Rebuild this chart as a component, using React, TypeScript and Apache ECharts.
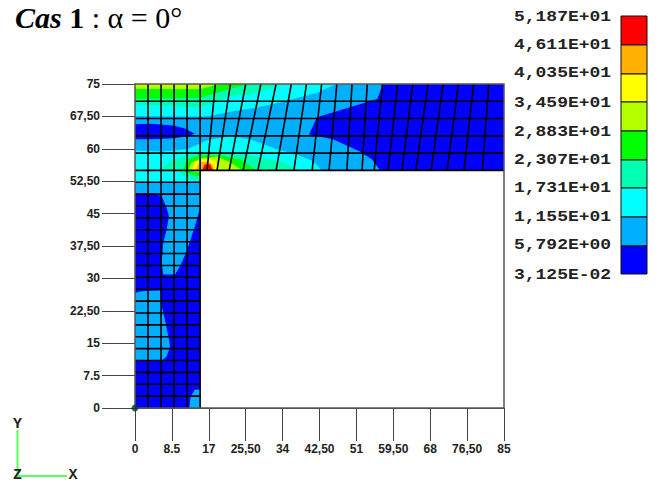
import React, { useEffect, useRef } from "react";
import * as echarts from "echarts";

const levelColors = ["#0000ff", "#00b0ff", "#00ffff", "#00ffb0", "#00ff00", "#b4ff00", "#ffff00", "#ffb000", "#ff0000"];
const legendLabels = ["5,187E+01", "4,611E+01", "4,035E+01", "3,459E+01", "2,883E+01", "2,307E+01", "1,731E+01", "1,155E+01", "5,792E+00", "3,125E-02"];
const xTickLabels = ["0", "8.5", "17", "25,50", "34", "42,50", "51", "59,50", "68", "76,50", "85"];
const yTickLabels = ["0", "7.5", "15", "22,50", "30", "37,50", "45", "52,50", "60", "67,50", "75"];

type Pt = [number, number];
// Iso-value bands in model units, painted from lowest to highest level.
const baseShape: Pt[] = [[0, 0], [15, 0], [15, 55], [85, 55], [85, 75], [0, 75]];
const topLight: Pt[] = [[0, 75], [57.1, 75], [55.8, 71.5], [41.9, 67.3], [40.1, 63.3], [45.6, 62.2], [51.8, 59.4], [54.6, 57.5], [56.5, 55], [0, 55]];
const leftLightA: Pt[] = [[0, 55], [15, 55], [15, 46.3], [13.8, 42.1], [11.9, 36.3], [10.4, 32.8], [9.2, 30.9], [6.5, 30.9], [6.15, 33.6], [6.5, 38.2], [7.3, 41.3], [7.8, 44.4], [7.3, 46.3], [6.15, 49], [4.2, 49.65], [0, 49.65]];
const leftLightB: Pt[] = [[0, 26.6], [1.5, 27], [5.76, 27.2], [6.15, 23.5], [6.9, 20.4], [7.7, 16.5], [8.06, 14.2], [7.3, 11.9], [6.4, 11.1], [0, 11.1]];
const leftLightC: Pt[] = [[15, 4.3], [13.8, 4.2], [12.8, 2.6], [12.5, 0], [15, 0]];
const blueBlob: Pt[] = [[0, 65.7], [3.5, 65.8], [8.8, 65.4], [11.5, 64.7], [13.8, 63.5], [11.5, 62.8], [8.1, 62.4], [3.5, 62.2], [0, 62.2]];
const cyanTop: Pt[] = [[0, 75], [46.3, 75], [41.9, 73], [36.4, 71.5], [31.8, 70.3], [27.7, 69.5], [21.9, 68.6], [17.3, 67.6], [14.3, 67.5], [0, 67.6]];
const cyanLow: Pt[] = [[0, 59.6], [6.45, 59.4], [12, 59.9], [16.6, 62], [21.9, 62.9], [26.5, 62.2], [32.7, 59.9], [37.3, 58.7], [41, 57.1], [43.1, 55], [15, 55], [15, 52.4], [0, 52.4]];
const tealTop: Pt[] = [[0, 75], [33.4, 75], [31.1, 73.9], [26.5, 72.6], [21.9, 72.2], [17.3, 70.3], [14.3, 69.6], [0, 70.3]];
const tealLow: Pt[] = [[5.76, 55], [8.06, 57.1], [12, 58.5], [16.6, 59.4], [22.6, 59.2], [28.8, 58], [34.1, 56.8], [38, 55], [15, 55], [15, 52.7], [12.7, 52.9], [11, 53.8], [9.9, 55]];
const greenTop: Pt[] = [[0, 75], [26.5, 75], [21.9, 73.9], [17.3, 72.5], [15, 71.8], [0, 71.5]];
const greenLow: Pt[] = [[11, 55], [12.2, 57.5], [15, 58.5], [19.6, 58.5], [24.2, 57.5], [28.1, 55], [15, 55], [15, 53.5], [12.5, 54.2]];
const limeTop: Pt[] = [[0, 75], [21.4, 75], [18.4, 74.7], [15, 73.8], [0, 73.9]];
const limeLow: Pt[] = [[12.2, 55.1], [13.1, 56.8], [15, 57.7], [18.9, 58.2], [21.9, 56.9], [24.7, 55], [15, 55], [15, 54.5], [13, 54.8]];
const yellowLow: Pt[] = [[13.1, 55], [13.8, 56.9], [15.7, 57.7], [18.4, 57.4], [19.6, 55]];
const orangeLow: Pt[] = [[14, 55], [14.8, 56.9], [16.7, 57.1], [17.7, 56.4], [18.4, 55]];
const redLow: Pt[] = [[15.4, 55], [16.1, 56.4], [17.3, 56.4], [18, 55]];

const bands: { level: number; points: Pt[] }[] = [
  { level: 0, points: baseShape },
  { level: 1, points: topLight },
  { level: 1, points: leftLightA },
  { level: 1, points: leftLightB },
  { level: 1, points: leftLightC },
  { level: 0, points: blueBlob },
  { level: 2, points: cyanTop },
  { level: 2, points: cyanLow },
  { level: 3, points: tealTop },
  { level: 3, points: tealLow },
  { level: 4, points: greenTop },
  { level: 4, points: greenLow },
  { level: 5, points: limeTop },
  { level: 5, points: limeLow },
  { level: 6, points: yellowLow },
  { level: 7, points: orangeLow },
  { level: 8, points: redLow },
];

// Finite element mesh
const columnXs = [3, 6, 9, 12, 15];
const flangeRowYs = [55, 59, 63, 67, 71];
const webRowYs = [2.75, 5.5, 8.25, 11, 13.75, 16.5, 19.25, 22, 24.75, 27.5, 30.25, 33, 35.75, 38.5, 41.25, 44, 46.75, 49.5, 52.25];
const flangeTopXs = [18.5, 22, 25.5, 29, 32.5, 36, 39.5, 43, 46.5, 50, 53.5, 57, 60.5, 64, 67.5, 71, 74.5, 78, 81.5];
const flangeBottomXs = [16.6, 18.9, 21.7, 24.9, 28.3, 32.5, 36.6, 40.8, 44.7, 48.8, 52.3, 55.1, 58.3, 61.5, 64.7, 68.2, 71.9, 75.8, 80];

const meshLines: Pt[][] = [
  ...columnXs.map((x): Pt[] => [[x, 0], [x, 75]]),
  ...flangeRowYs.map((y): Pt[] => [[0, y], [85, y]]),
  ...webRowYs.map((y): Pt[] => [[0, y], [15, y]]),
  ...flangeTopXs.map((x, i): Pt[] => [[x, 75], [flangeBottomXs[i], 55]]),
];
const framePath: Pt[] = [[0, 0], [0, 75], [85, 75], [85, 0], [0, 0]];
const originPoint: Pt[] = [[0, 0]];

const tickFont = "'Liberation Sans', sans-serif";
const blockFont = "bold 15px 'Liberation Mono', monospace";
const serif = "'Liberation Serif', serif";

export default function App() {
  const ref = useRef<HTMLDivElement>(null);
  useEffect(() => {
    const chart = echarts.init(ref.current!, undefined, { renderer: "svg" });
    const legendBounds = [16, 45, 74, 102, 131, 160, 188, 217, 246, 274];
    const legendY = [17, 45, 73, 103, 132, 160, 188, 217, 245, 275];
    const graphic: any[] = [];
    levelColors.forEach((c, i) => {
      const lvl = levelColors.length - 1 - i;
      graphic.push({
        type: "rect",
        silent: true,
        shape: { x: 621, y: legendBounds[i], width: 26, height: legendBounds[i + 1] - legendBounds[i] },
        style: { fill: levelColors[lvl], stroke: "#111", lineWidth: 1 },
      });
    });
    legendLabels.forEach((t, i) => {
      graphic.push({
        type: "text",
        silent: true,
        x: 514,
        y: legendY[i],
        scaleX: 1.2,
        style: { text: t, fill: "#222", font: blockFont, textVerticalAlign: "middle" },
      });
    });
    graphic.push(
      { type: "polyline", silent: true, shape: { points: [[17.5, 430], [17.5, 476], [67, 476]] }, style: { stroke: "#5dff5d", lineWidth: 2, fill: "none" } },
      { type: "text", silent: true, x: 17.5, y: 424, style: { text: "Y", fill: "#222", font: blockFont, textAlign: "center", textVerticalAlign: "middle" } },
      { type: "text", silent: true, x: 17.5, y: 475, style: { text: "Z", fill: "#222", font: blockFont, textAlign: "center", textVerticalAlign: "middle" } },
      { type: "text", silent: true, x: 73, y: 475, style: { text: "X", fill: "#222", font: blockFont, textAlign: "center", textVerticalAlign: "middle" } },
    );

    const axisCommon = {
      axisLine: { onZero: false, lineStyle: { color: "#444", width: 1 } },
      axisTick: { length: 33, lineStyle: { color: "#444", width: 1 } },
      splitLine: { show: false },
    };

    chart.setOption({
      animation: false,
      title: {
        left: 10,
        top: -3,
        text: "{a|Cas} {b|1} {c|: α = 0°}",
        textStyle: {
          fontWeight: "normal",
          fontFamily: serif,
          fontSize: 30,
          rich: {
            a: { fontFamily: serif, fontSize: 30, fontWeight: "bold", fontStyle: "italic", color: "#000" },
            b: { fontFamily: serif, fontSize: 30, fontWeight: "bold", color: "#000" },
            c: { fontFamily: serif, fontSize: 30, fontWeight: "normal", color: "#000" },
          },
        },
      },
      grid: { left: 135, top: 84, right: 155, bottom: 76 },
      xAxis: {
        type: "value",
        min: 0,
        max: 85,
        interval: 8.5,
        ...axisCommon,
        axisLabel: {
          margin: 35,
          fontFamily: tickFont,
          fontSize: 12,
          fontWeight: "bold",
          color: "#222",
          formatter: (_v: number, i: number) => xTickLabels[i],
        },
      },
      yAxis: {
        type: "value",
        min: 0,
        max: 75,
        interval: 7.5,
        ...axisCommon,
        axisLabel: {
          margin: 35,
          fontFamily: tickFont,
          fontSize: 12,
          fontWeight: "bold",
          color: "#222",
          formatter: (_v: number, i: number) => yTickLabels[i],
        },
      },
      graphic,
      series: [
        {
          type: "custom",
          silent: true,
          clip: false,
          z: 2,
          data: bands.map((b) => b.points[0]),
          renderItem: (params: any, api: any) => {
            const b = bands[params.dataIndex];
            return {
              type: "polygon",
              shape: { points: b.points.map((p) => api.coord(p)) },
              style: { fill: levelColors[b.level], stroke: null },
            };
          },
        },
        {
          type: "custom",
          silent: true,
          clip: false,
          z: 3,
          data: meshLines.map((l) => l[0]),
          renderItem: (params: any, api: any) => ({
            type: "polyline",
            shape: { points: meshLines[params.dataIndex].map((p) => api.coord(p)) },
            style: { stroke: "#000", lineWidth: 1.6, fill: null },
          }),
        },
        {
          type: "custom",
          silent: true,
          clip: false,
          z: 4,
          data: [framePath[0]],
          renderItem: (_p: any, api: any) => ({
            type: "polyline",
            shape: { points: framePath.map((p) => api.coord(p)) },
            style: { stroke: "#555", lineWidth: 1.5, fill: null },
          }),
        },
        {
          type: "scatter",
          silent: true,
          z: 5,
          clip: false,
          symbolSize: 7,
          itemStyle: { color: "#0b3b2e" },
          data: originPoint,
        },
      ],
    });
    return () => chart.dispose();
  }, []);
  return <div ref={ref} style={{ position: "absolute", left: 0, top: 0, width: 659, height: 484 }} />;
}
